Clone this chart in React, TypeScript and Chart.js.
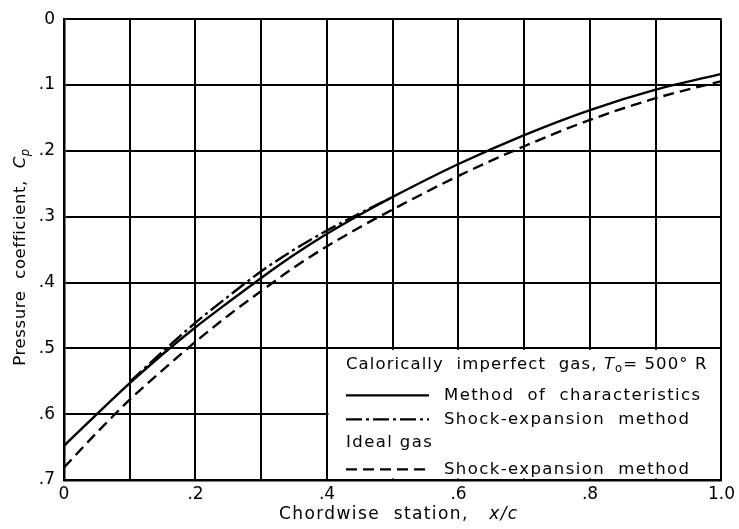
import React, { useEffect, useRef } from "react";
import { Chart, registerables } from "chart.js";

Chart.register(...registerables);

// ---- data ----
const xStations = [0, 0.05, 0.1, 0.15, 0.2, 0.25, 0.3, 0.35, 0.4, 0.45, 0.5, 0.6, 0.7, 0.8, 0.9, 1.0];
const cpCharacteristics = [0.648, 0.6, 0.553, 0.509, 0.468, 0.43, 0.393, 0.358, 0.326, 0.297, 0.27, 0.22, 0.176, 0.138, 0.107, 0.083];
const xShockImperfect = [0.1, 0.15, 0.2, 0.25, 0.3, 0.35, 0.4, 0.45, 0.5];
const cpShockImperfect = [0.551, 0.505, 0.461, 0.421, 0.383, 0.35, 0.321, 0.295, 0.27];
const cpShockIdeal = [0.681, 0.628, 0.578, 0.533, 0.49, 0.45, 0.413, 0.377, 0.345, 0.316, 0.289, 0.238, 0.193, 0.153, 0.12, 0.094];
const yTickLabels = ["0", ".1", ".2", ".3", ".4", ".5", ".6", ".7"];
const xTickLabels = ["0", "", ".2", "", ".4", "", ".6", "", ".8", "", "1.0"];

const FONT = "'DejaVu Sans', sans-serif";
const SOLID: number[] = [];
const DASH_DOT = [16, 4, 3, 4];
const DASHED = [11, 6];

type Run = { text: string; italic?: boolean; sub?: boolean };

function runsWidth(ctx: CanvasRenderingContext2D, runs: Run[], size: number) {
  let w = 0;
  for (const r of runs) {
    const s = r.sub ? size * 0.7 : size;
    ctx.font = `${r.italic ? "italic " : ""}${s}px ${FONT}`;
    w += ctx.measureText(r.text).width;
  }
  return w;
}

function drawRuns(ctx: CanvasRenderingContext2D, x: number, y: number, runs: Run[], size: number) {
  let cx = x;
  for (const r of runs) {
    const s = r.sub ? size * 0.7 : size;
    ctx.font = `${r.italic ? "italic " : ""}${s}px ${FONT}`;
    ctx.fillText(r.text, cx, r.sub ? y + size * 0.3 : y);
    cx += ctx.measureText(r.text).width;
  }
}

const annotations = {
  id: "annotations",
  beforeDatasetsDraw(chart: any) {
    const { ctx, scales } = chart;
    const x = scales.x, y = scales.y;
    const l = x.getPixelForValue(0.4), r = x.getPixelForValue(1);
    const t = y.getPixelForValue(0.5), b = y.getPixelForValue(0.7);
    ctx.save();
    ctx.fillStyle = "#fff";
    ctx.fillRect(l + 1.5, t + 1.5, r - l - 3, b - t - 3);
    ctx.restore();
  },
  afterDraw(chart: any) {
    const { ctx, scales, chartArea } = chart;
    const x = scales.x, y = scales.y;
    const l = x.getPixelForValue(0.4);
    const t = y.getPixelForValue(0.5);
    ctx.save();
    ctx.fillStyle = "#000";
    ctx.textBaseline = "middle";
    (ctx as any).letterSpacing = "1.4px";
    const size = 16.5;
    const tx = l + 19;
    const sx0 = l + 19, sx1 = l + 102;
    const dx = l + 117;
    (ctx as any).letterSpacing = "1.1px";
    drawRuns(ctx, tx, t + 16, [
      { text: "Calorically  imperfect  gas, " },
      { text: "T", italic: true },
      { text: "o", sub: true },
      { text: "= 500° R" },
    ], size);
    (ctx as any).letterSpacing = "1.4px";
    const rows: [number, number[], string][] = [
      [t + 47, SOLID, "Method  of  characteristics"],
      [t + 71, DASH_DOT, "Shock-expansion  method"],
      [t + 121, DASHED, "Shock-expansion  method"],
    ];
    for (const [ry, dash, label] of rows) {
      ctx.save();
      ctx.strokeStyle = "#000";
      ctx.lineWidth = 2.2;
      ctx.setLineDash(dash);
      ctx.beginPath();
      ctx.moveTo(sx0, ry);
      ctx.lineTo(sx1, ry);
      ctx.stroke();
      ctx.restore();
      drawRuns(ctx, dx, ry, [{ text: label }], size);
    }
    drawRuns(ctx, tx, t + 94, [{ text: "Ideal gas" }], size);

    // x-axis title
    const xr: Run[] = [{ text: "Chordwise  station,   " }, { text: "x/c", italic: true }];
    const xs = 17;
    const xw = runsWidth(ctx, xr, xs);
    drawRuns(ctx, (chartArea.left + chartArea.right) / 2 + 6 - xw / 2, 515, xr, xs);

    // y-axis title
    (ctx as any).letterSpacing = "0.6px";
    const yr: Run[] = [{ text: "Pressure  coefficient,  " }, { text: "C", italic: true }, { text: "p", italic: true, sub: true }];
    const ys = 16.5;
    const yw = runsWidth(ctx, yr, ys);
    ctx.translate(21, 257);
    ctx.rotate(-Math.PI / 2);
    drawRuns(ctx, -yw / 2, 0, yr, ys);
    ctx.restore();
  },
};

export default function App() {
  const ref = useRef<HTMLCanvasElement>(null);
  useEffect(() => {
    const pts = (xs: number[], ys: number[]) => xs.map((v, i) => ({ x: v, y: ys[i] }));
    const common = {
      borderColor: "#000",
      borderWidth: 2.4,
      pointRadius: 0,
      showLine: true,
      fill: false,
      cubicInterpolationMode: "monotone" as const,
    };
    const chart = new Chart(ref.current!, {
      type: "scatter",
      data: {
        datasets: [
          { label: "Method of characteristics", data: pts(xStations, cpCharacteristics), ...common, borderDash: SOLID },
          { label: "Shock-expansion method (calorically imperfect)", data: pts(xShockImperfect, cpShockImperfect), ...common, borderDash: DASH_DOT },
          { label: "Shock-expansion method (ideal gas)", data: pts(xStations, cpShockIdeal), ...common, borderDash: DASHED },
        ],
      },
      options: {
        animation: false,
        responsive: true,
        maintainAspectRatio: false,
        layout: { padding: { left: 0, top: 16, right: 14, bottom: 0 } },
        plugins: { legend: { display: false }, tooltip: { enabled: false } },
        scales: {
          x: {
            type: "linear",
            min: 0,
            max: 1,
            afterFit: (s: any) => { s.height = 49; },
            grid: { color: "#000", lineWidth: 2, drawTicks: false },
            border: { display: true, color: "#000", width: 2.5 },
            ticks: {
              stepSize: 0.1,
              autoSkip: false,
              maxRotation: 0,
              padding: 4,
              color: "#000",
              font: { family: FONT, size: 17 },
              callback: (v: any) => xTickLabels[Math.round(Number(v) * 10)] ?? "",
            },
          },
          y: {
            type: "linear",
            reverse: true,
            min: 0,
            max: 0.7,
            afterFit: (s: any) => { s.width = 64; },
            grid: { color: "#000", lineWidth: 2, drawTicks: false },
            border: { display: true, color: "#000", width: 2.5 },
            ticks: {
              stepSize: 0.1,
              autoSkip: false,
              padding: 9,
              color: "#000",
              font: { family: FONT, size: 17 },
              callback: (v: any) => yTickLabels[Math.round(Number(v) * 10)] ?? "",
            },
          },
        },
      },
      plugins: [annotations],
    });
    return () => chart.destroy();
  }, []);
  return (
    <div style={{ position: "absolute", left: 0, top: 0, width: 739, height: 529, background: "#fff" }}>
      <canvas ref={ref} style={{ display: "block" }} />
    </div>
  );
}
